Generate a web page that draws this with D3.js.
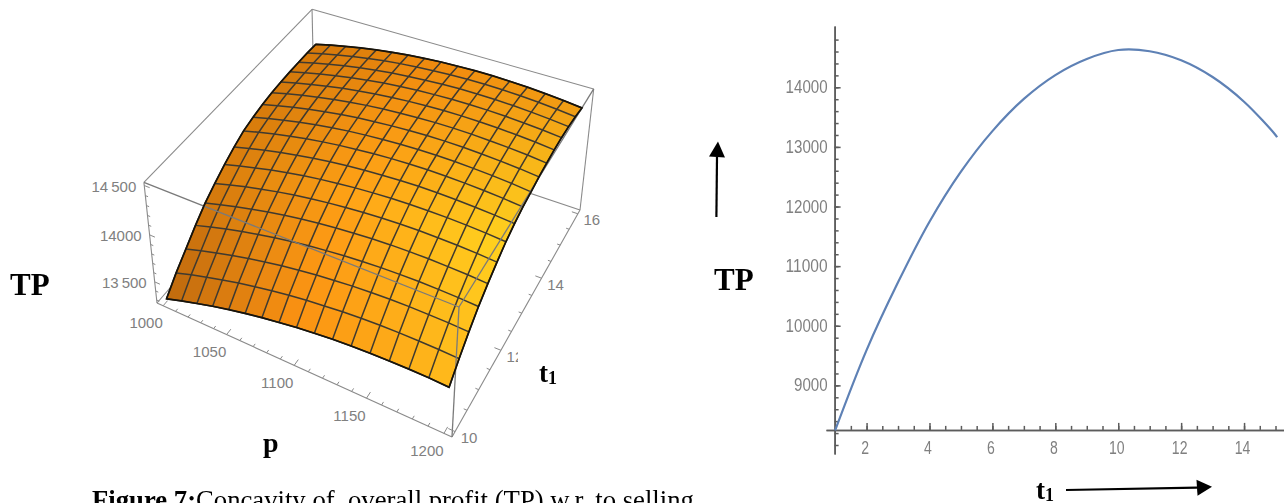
<!DOCTYPE html>
<html>
<head>
<meta charset="utf-8">
<script src="https://cdn.jsdelivr.net/npm/d3@7"></script>
<style>
  html, body { margin: 0; padding: 0; background: #fff; overflow: hidden; }
  svg { display: block; }
  .serif { font-family: "Liberation Serif", serif; fill: #000; }
  .tick-label { font-family: "Liberation Sans", sans-serif; fill: #808080; }
</style>
</head>
<body>
<svg width="1284" height="503"></svg>
<script>
// ---- surface data
var pValues = [1000, 1012.5, 1025, 1037.5, 1050, 1062.5, 1075, 1087.5, 1100, 1112.5, 1125, 1137.5, 1150, 1162.5, 1175, 1187.5, 1200];
var t1Values = [10, 10.375, 10.75, 11.125, 11.5, 11.875, 12.25, 12.625, 13, 13.375, 13.75, 14.125, 14.5, 14.875, 15.25, 15.625, 16];
// one row per t1 value, one column per p value
var tpGrid = [
  [13297, 13351, 13400, 13447, 13489, 13527, 13561, 13590, 13617, 13639, 13658, 13672, 13682, 13688, 13691, 13690, 13684],
  [13444, 13497, 13545, 13590, 13631, 13668, 13701, 13729, 13754, 13774, 13792, 13805, 13814, 13819, 13820, 13818, 13811],
  [13570, 13622, 13669, 13713, 13753, 13790, 13822, 13849, 13873, 13893, 13910, 13922, 13930, 13934, 13934, 13932, 13924],
  [13697, 13748, 13793, 13836, 13874, 13909, 13939, 13965, 13987, 14006, 14021, 14032, 14038, 14041, 14039, 14035, 14025],
  [13811, 13859, 13903, 13943, 13980, 14012, 14041, 14064, 14085, 14101, 14114, 14123, 14127, 14128, 14124, 14118, 14106],
  [13899, 13946, 13989, 14028, 14064, 14095, 14122, 14145, 14164, 14180, 14192, 14199, 14203, 14202, 14198, 14190, 14177],
  [13981, 14027, 14068, 14107, 14141, 14171, 14197, 14218, 14237, 14251, 14262, 14268, 14270, 14269, 14263, 14254, 14240],
  [14051, 14096, 14135, 14172, 14204, 14233, 14258, 14277, 14294, 14306, 14316, 14321, 14321, 14318, 14310, 14300, 14285],
  [14110, 14153, 14191, 14226, 14257, 14284, 14307, 14325, 14340, 14352, 14360, 14363, 14362, 14357, 14348, 14336, 14319],
  [14145, 14187, 14225, 14259, 14289, 14315, 14338, 14355, 14369, 14379, 14387, 14389, 14387, 14381, 14372, 14359, 14341],
  [14171, 14213, 14250, 14284, 14314, 14340, 14362, 14379, 14393, 14404, 14411, 14413, 14411, 14405, 14395, 14382, 14364],
  [14190, 14232, 14269, 14302, 14332, 14358, 14380, 14397, 14410, 14420, 14427, 14429, 14427, 14420, 14410, 14397, 14379],
  [14199, 14241, 14278, 14312, 14342, 14368, 14390, 14407, 14421, 14431, 14438, 14440, 14438, 14432, 14422, 14409, 14391],
  [14205, 14247, 14284, 14318, 14348, 14374, 14396, 14413, 14427, 14436, 14443, 14445, 14443, 14437, 14427, 14414, 14396],
  [14207, 14249, 14285, 14319, 14348, 14374, 14395, 14412, 14425, 14435, 14442, 14443, 14441, 14434, 14424, 14410, 14392],
  [14207, 14248, 14284, 14316, 14345, 14370, 14391, 14406, 14419, 14428, 14434, 14434, 14431, 14424, 14413, 14398, 14379],
  [14202, 14242, 14276, 14308, 14336, 14359, 14379, 14394, 14406, 14413, 14418, 14418, 14413, 14405, 14393, 14377, 14357]
];
var pTicks = [1000, 1050, 1100, 1150, 1200];
var t1Ticks = [10, 12, 14, 16];
var tpTicks = [13500, 14000, 14500];

// ---- 2D curve data
var curveT1 = [1, 2, 3, 4, 5, 6, 7, 8, 9, 10, 11, 12, 13, 14, 15, 15.05];
var curveTP = [8245, 9592, 10728, 11745, 12585, 13265, 13805, 14205, 14475, 14625, 14605, 14453, 14172, 13758, 13200, 13161];
var curveXTicks = [2, 4, 6, 8, 10, 12, 14];
var curveYTicks = [9000, 10000, 11000, 12000, 13000, 14000];

var svg = d3.select("svg");

// ---- left: 3D box, projected with a small perspective
var boxP = d3.scaleLinear().domain([995, 1205]).range([1, 0]);
var boxT = d3.scaleLinear().domain([9.875, 16.125]).range([0, 1]);
var boxZ = d3.scaleLinear().domain([13267, 14531]).range([0, 1]);

var near = [452, 437], alongP = [157, 303], alongT = [580, 210], alongZ = [459, 307];
var wP = 1.15, wT = 1.2, wZ = 0.93;

function project(p, t, z) {
  var a = boxP(p), b = boxT(t), c = boxZ(z);
  var w = 1 + (wP - 1) * a + (wT - 1) * b + (wZ - 1) * c;
  return [0, 1].map(function(k) {
    return (near[k] + a * (alongP[k] * wP - near[k]) + b * (alongT[k] * wT - near[k]) + c * (alongZ[k] * wZ - near[k])) / w;
  });
}

var pLo = boxP.domain()[0], pHi = boxP.domain()[1];
var tLo = boxT.domain()[0], tHi = boxT.domain()[1];
var zLo = boxZ.domain()[0], zHi = boxZ.domain()[1];
var line3 = d3.line();

var plot3d = svg.append("g").attr("id", "surface-plot");

function boxEdges(g, list, colour, size) {
  g.selectAll(null).data(list).enter().append("path")
    .attr("d", function(d) { return line3(d.map(function(c) { return project(c[0], c[1], c[2]); })); })
    .attr("fill", "none")
    .attr("stroke", colour)
    .attr("stroke-width", size);
}

// edges behind the surface
boxEdges(plot3d.append("g"), [
  [[pLo, tLo, zHi], [pLo, tHi, zHi]],
  [[pLo, tHi, zHi], [pHi, tHi, zHi]],
  [[pLo, tHi, zHi], [pLo, tHi, zLo]],
  [[pLo, tHi, zLo], [pHi, tHi, zLo]],
  [[pLo, tHi, zLo], [pLo, tLo, zLo]],
  [[pHi, tHi, zHi], [pHi, tHi, zLo]],
  [[pLo, tLo, zHi], [pLo, tLo, zLo]],
  [[pLo, tLo, zLo], [pHi, tLo, zLo]],
  [[pHi, tLo, zLo], [pHi, tHi, zLo]]
], "#8a8a8a", 1.1);

// Surface colour changes with both p and t1, roughly as the lighting in the picture
var colourFront = d3.piecewise(d3.interpolateRgb, ["#bd680e", "#fb9012", "#ffb81c"]);
var colourMid = d3.piecewise(d3.interpolateRgb, ["#d87c0c", "#ffa216", "#ffd21f"]);
var colourBack = d3.piecewise(d3.interpolateRgb, ["#d4780a", "#f08a0e", "#f09c14"]);
function cellColour(s, r) {
  if (r < 0.35) return d3.interpolateRgb(colourFront(s), colourMid(s))(r / 0.35);
  return d3.interpolateRgb(colourMid(s), colourBack(s))((r - 0.35) / 0.65);
}

var cells = [];
t1Values.slice(0, -1).forEach(function(t, j) {
  pValues.slice(0, -1).forEach(function(p, i) {
    cells.push({i: i, j: j});
  });
});
// painter order, back cells first
cells.sort(function(a, b) { return b.j - a.j; });

function gridPoint(i, j) {
  return project(pValues[i], t1Values[j], tpGrid[j][i]);
}

var soft = plot3d.append("g").style("filter", "blur(0.35px)");
soft.append("g").selectAll("path").data(cells).enter().append("path")
  .attr("d", function(d) {
    return line3([gridPoint(d.i, d.j), gridPoint(d.i + 1, d.j), gridPoint(d.i + 1, d.j + 1), gridPoint(d.i, d.j + 1)]) + "Z";
  })
  .attr("fill", function(d) { return cellColour((d.i + 0.5) / 16, (d.j + 0.5) / 16); })
  .attr("stroke", function(d) { return cellColour((d.i + 0.5) / 16, (d.j + 0.5) / 16); })
  .attr("stroke-width", 0.5);

// mesh lines
var meshLines = [];
t1Values.forEach(function(t, j) {
  meshLines.push(pValues.map(function(p, i) { return gridPoint(i, j); }));
});
pValues.forEach(function(p, i) {
  meshLines.push(t1Values.map(function(t, j) { return gridPoint(i, j); }));
});
soft.append("g").selectAll("path").data(meshLines).enter().append("path")
  .attr("d", line3)
  .attr("fill", "none")
  .attr("stroke", "#3f3a30")
  .attr("stroke-width", 1.5);

// edges in front of the surface, the outline goes over them
boxEdges(soft.append("g"), [
  [[pLo, tLo, zHi], [pHi, tLo, zHi]],
  [[pHi, tLo, zHi], [pHi, tHi, zHi]],
  [[pHi, tLo, zHi], [pHi, tLo, zLo]]
], "#7a7a7a", 1.3);

var outline = [].concat(
  pValues.map(function(p, i) { return gridPoint(i, 0); }),
  t1Values.map(function(t, j) { return gridPoint(16, j); }),
  pValues.map(function(p, i) { return gridPoint(16 - i, 16); }),
  t1Values.map(function(t, j) { return gridPoint(0, 16 - j); })
);
soft.append("path")
  .attr("d", line3(outline) + "Z")
  .attr("fill", "none")
  .attr("stroke", "#17130b")
  .attr("stroke-width", 1.7);

// ticks on the three labelled box edges
var boxTicks = [];
d3.range(1000, 1201, 10).forEach(function(p) {
  var len = p % 50 == 0 ? 0.024 : 0.012;
  boxTicks.push([project(p, tLo, zLo), project(p, tLo + len * 6.25, zLo)]);
});
d3.range(10, 16.01, 0.5).forEach(function(t) {
  var len = t % 2 == 0 ? 0.02 : 0.01;
  boxTicks.push([project(pHi, t, zLo), project(pHi - len * 210, t, zLo)]);
});
d3.range(13300, 14501, 100).forEach(function(z) {
  var len = z % 500 == 0 ? 0.02 : 0.01;
  boxTicks.push([project(pLo, tLo, z), project(pLo + len * 210, tLo, z)]);
});
plot3d.append("g").selectAll("path").data(boxTicks).enter().append("path")
  .attr("d", line3)
  .attr("stroke", "#8a8a8a")
  .attr("stroke-width", 1);

function boxLabels(list, where, dx, dy, anchor, fmt) {
  plot3d.append("g").selectAll("text").data(list).enter().append("text")
    .attr("class", "tick-label")
    .attr("x", function(d) { return where(d)[0] + dx; })
    .attr("y", function(d) { return where(d)[1] + dy; })
    .attr("dy", "0.36em")
    .attr("text-anchor", anchor)
    .style("font-size", "15px")
    .text(fmt || String);
}
boxLabels(pTicks, function(d) { return project(d, tLo, zLo); }, -17, 17, "middle");
boxLabels(t1Ticks, function(d) { return project(pHi, d, zLo); }, 14, 6, "middle");
boxLabels(tpTicks, function(d) { return project(pLo, tLo, d); }, -8, 1, "end", function(d) {
  return d == 14000 ? "14000" : String(d).slice(0, 2) + "\u2009" + String(d).slice(2);
});

// ---- right: 2D plot
var xScale = d3.scaleLinear().domain([0.71, 15.27]).range([826, 1284]);
var yScale = d3.scaleLinear().domain([7849, 15028]).range([454, 26]);
var axisX = xScale(1) - 0.5, axisY = yScale(8245) - 0.5;

var plot2d = svg.append("g").attr("id", "curve-plot").style("filter", "blur(0.3px)");

function styleAxis(g, labelWidth) {
  g.selectAll(".domain, line").attr("stroke", "#5c5c5c").attr("stroke-width", 1.5);
  g.selectAll("text")
    .attr("class", "tick-label")
    .attr("font-family", null)
    .attr("textLength", function() { return this.textContent.length * labelWidth; })
    .attr("lengthAdjust", "spacingAndGlyphs")
    .style("font-size", "17.5px");
}

var minorX = plot2d.append("g").attr("transform", "translate(0," + axisY + ")")
  .call(d3.axisBottom(xScale).tickValues(d3.range(1.5, 15.1, 0.5)).tickSize(-4).tickSizeOuter(0).tickFormat(""));
var majorX = plot2d.append("g").attr("transform", "translate(0," + axisY + ")")
  .call(d3.axisBottom(xScale).tickValues(curveXTicks).tickSize(-7).tickSizeOuter(0).tickPadding(12));
var minorY = plot2d.append("g").attr("transform", "translate(" + axisX + ",0)")
  .call(d3.axisLeft(yScale).tickValues(d3.range(8000, 14801, 200)).tickSize(-4).tickSizeOuter(0).tickFormat(""));
var majorY = plot2d.append("g").attr("transform", "translate(" + axisX + ",0)")
  .call(d3.axisLeft(yScale).tickValues(curveYTicks).tickSize(-6).tickSizeOuter(0).tickPadding(7).tickFormat(d3.format("d")));
styleAxis(minorX, 8); styleAxis(minorY, 8); styleAxis(majorX, 7.8); styleAxis(majorY, 8.4);
majorX.selectAll("text").attr("x", -2);

plot2d.append("path")
  .datum(curveT1.map(function(t, i) { return [t, curveTP[i]]; }))
  .attr("d", d3.line()
    .x(function(d) { return xScale(d[0]); })
    .y(function(d) { return yScale(d[1]); })
    .curve(d3.curveCatmullRom))
  .attr("fill", "none")
  .attr("stroke", "#5e81b5")
  .attr("stroke-width", 2.2);

// ---- hand placed labels and arrows
function serifLabel(x, y, size, txt, sub) {
  var t = svg.append("text").attr("class", "serif").attr("x", x).attr("y", y)
    .style("font-size", size + "px").style("font-weight", "bold").text(txt);
  if (sub) t.append("tspan").attr("dy", 2).style("font-size", "18px").text(sub);
}

// the t1 label sits on a white patch that hides part of the "12" tick label
svg.append("rect").attr("x", 518).attr("y", 345).attr("width", 42).attr("height", 45).attr("fill", "#fff");

serifLabel(10, 295, 31, "TP");
serifLabel(714, 290, 31, "TP");
serifLabel(263, 452, 28, "p");
serifLabel(539, 382, 27, "t", "1");
serifLabel(1036, 499, 27, "t", "1");

function arrow(from, neck, tip, half) {
  svg.append("line")
    .attr("x1", from[0]).attr("y1", from[1]).attr("x2", neck[0]).attr("y2", neck[1])
    .attr("stroke", "#000").attr("stroke-width", 2.2);
  var dx = tip[0] - neck[0], dy = tip[1] - neck[1], n = Math.hypot(dx, dy);
  var ox = -dy / n * half, oy = dx / n * half;
  svg.append("path")
    .attr("d", d3.line()([[neck[0] + ox, neck[1] + oy], tip, [neck[0] - ox, neck[1] - oy]]) + "Z")
    .attr("fill", "#000");
}
arrow([716.4, 217], [717, 157], [718, 141.5], 8);
arrow([1066, 490], [1197, 487.7], [1212, 486.7], 8);

// caption runs off the bottom of the picture, same as the reference
var caption = svg.append("text").attr("class", "serif").attr("x", 92).attr("y", 509)
  .style("font-size", "26.7px");
caption.append("tspan").style("font-weight", "bold").text("Figure 7:");
caption.append("tspan").style("white-space", "pre").text("Concavity of  overall profit (TP) w.r. to selling");
</script>
</body>
</html>
